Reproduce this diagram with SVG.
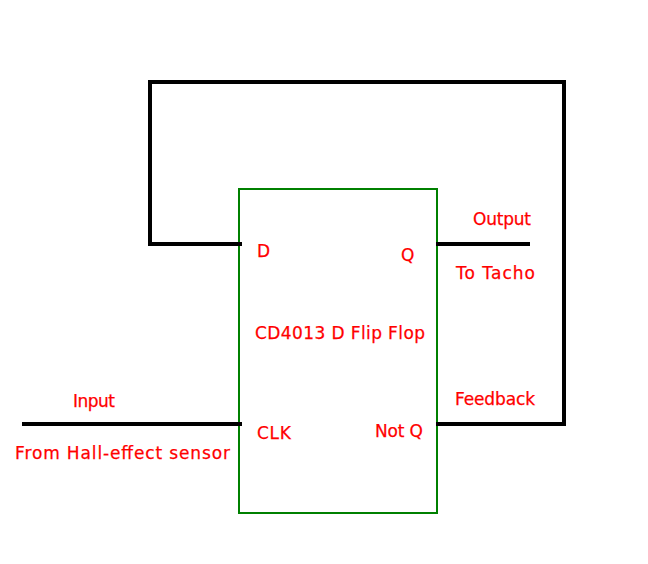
<svg xmlns="http://www.w3.org/2000/svg" width="648" height="564" viewBox="0 0 648 564">
<style>
.wire{fill:none;stroke:#000;stroke-width:4;shape-rendering:crispEdges}
.box{fill:#fff;stroke:#008000;stroke-width:2;shape-rendering:crispEdges}
text{fill:#f00;stroke:#f00;stroke-width:.25;font-family:"DejaVu Sans",sans-serif;font-size:17px}
</style>
<rect width="648" height="564" fill="#fff"/>
<g id="flipflop">
<rect class="box" x="239" y="189" width="198" height="324"/>
<text x="255" y="339" textLength="170">CD4013 D Flip Flop</text>
<text x="257" y="257">D</text>
<text x="401" y="261">Q</text>
<text x="257" y="439" textLength="34">CLK</text>
<text x="375" y="437" textLength="48">Not Q</text>
</g>
<g id="connectors">
<path class="wire" d="M436 424H564V82H150V244H242"/>
<path class="wire" d="M22 424H242"/>
<path class="wire" d="M436 244H530"/>
</g>
<g id="labels">
<text x="73" y="407" textLength="42">Input</text>
<text x="15" y="459" textLength="215">From Hall-effect sensor</text>
<text x="473" y="225" textLength="58">Output</text>
<text x="456" y="279" textLength="79">To Tacho</text>
<text x="455" y="405" textLength="80">Feedback</text>
</g>
</svg>
